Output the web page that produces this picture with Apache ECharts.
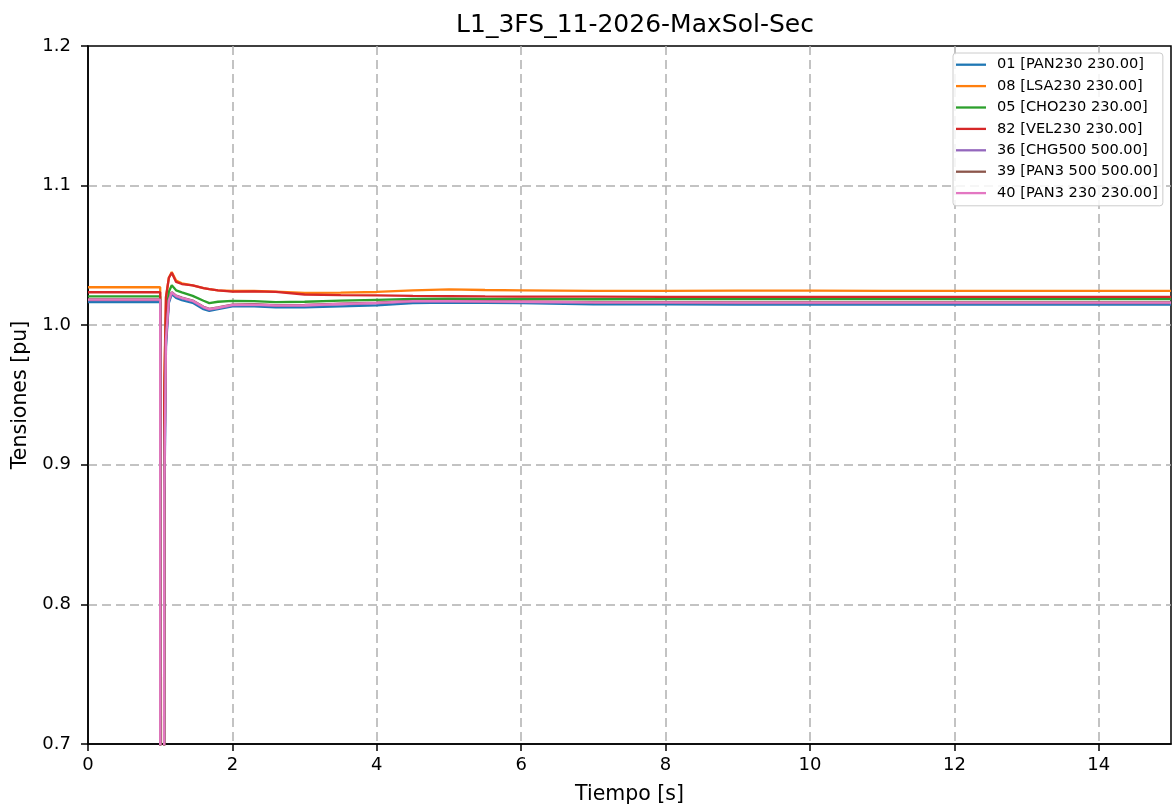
<!DOCTYPE html>
<html>
<head>
<meta charset="utf-8">
<script src="https://cdn.jsdelivr.net/npm/echarts@6/dist/echarts.min.js"></script>
<style>
html,body{margin:0;padding:0;background:#fff;}
#chart{width:1172px;height:812px;}
</style>
</head>
<body>
<div id="chart"></div>
<script>
// Time samples [s]
const T = [0, 1.0, 1.001, 1.05, 1.056, 1.08, 1.12, 1.16, 1.22, 1.3, 1.45, 1.6, 1.68, 1.8, 2.0, 2.3, 2.6, 3.0, 3.5, 4.0, 4.5, 5.0, 5.5, 6.0, 7.0, 8.0, 9.0, 10.0, 11.0, 12.0, 13.0, 14.0, 15.0];

// Voltages [pu]
const v01 = [1.0165, 1.0165, 0.2, 0.2, 0.86, 0.985, 1.016, 1.0222, 1.0195, 1.018, 1.016, 1.0115, 1.0102, 1.0115, 1.0135, 1.0135, 1.0127, 1.0128, 1.0135, 1.0142, 1.0158, 1.0162, 1.016, 1.0158, 1.0150, 1.0149, 1.0148, 1.0148, 1.0148, 1.0148, 1.0148, 1.0148, 1.0148];
const v08 = [1.0272, 1.0272, 0.2, 0.2, 0.96, 1.02, 1.034, 1.038, 1.032, 1.030, 1.0285, 1.0265, 1.0258, 1.025, 1.0245, 1.0245, 1.024, 1.0232, 1.0234, 1.0238, 1.0250, 1.0256, 1.0252, 1.0250, 1.0246, 1.0246, 1.0247, 1.0247, 1.0246, 1.0246, 1.0246, 1.0246, 1.0246];
const v05 = [1.0206, 1.0206, 0.2, 0.2, 0.93, 1.005, 1.024, 1.0286, 1.025, 1.0235, 1.021, 1.0175, 1.0158, 1.0168, 1.0174, 1.0172, 1.0166, 1.0168, 1.0176, 1.0182, 1.0188, 1.0190, 1.0189, 1.0188, 1.0186, 1.0187, 1.0187, 1.0187, 1.0187, 1.0187, 1.0187, 1.0187, 1.0187];
const v82 = [1.0236, 1.0236, 0.2, 0.2, 0.95, 1.02, 1.034, 1.0375, 1.031, 1.0295, 1.0285, 1.0265, 1.0258, 1.025, 1.024, 1.0243, 1.0238, 1.022, 1.0215, 1.0213, 1.021, 1.0208, 1.0206, 1.0205, 1.0204, 1.0203, 1.0203, 1.0203, 1.0203, 1.0203, 1.0203, 1.0203, 1.0203];
const v36 = [1.0180, 1.0180, 0.2, 0.2, 0.87, 0.988, 1.017, 1.0232, 1.0207, 1.0192, 1.0172, 1.0127, 1.0112, 1.0122, 1.0142, 1.0145, 1.0139, 1.0140, 1.0149, 1.0157, 1.0169, 1.0169, 1.0167, 1.0165, 1.0161, 1.0160, 1.0159, 1.0159, 1.0159, 1.0159, 1.0159, 1.0159, 1.0159];
const v39 = [1.0185, 1.0185, 0.2, 0.2, 0.89, 0.99, 1.018, 1.0237, 1.0212, 1.0197, 1.0177, 1.0132, 1.0117, 1.0127, 1.0147, 1.0150, 1.0144, 1.0145, 1.0154, 1.0162, 1.0174, 1.0174, 1.0172, 1.0170, 1.0166, 1.0165, 1.0164, 1.0164, 1.0164, 1.0164, 1.0164, 1.0164, 1.0164];
const v40 = [1.0183, 1.0183, 0.2, 0.2, 0.88, 0.99, 1.018, 1.0235, 1.021, 1.0195, 1.0175, 1.013, 1.0115, 1.0125, 1.0145, 1.0148, 1.0142, 1.0143, 1.0152, 1.016, 1.0172, 1.0172, 1.017, 1.0168, 1.0164, 1.0163, 1.0162, 1.0162, 1.0162, 1.0162, 1.0162, 1.0162, 1.0162];

const names = ['01 [PAN230 230.00]', '08 [LSA230 230.00]', '05 [CHO230 230.00]', '82 [VEL230 230.00]', '36 [CHG500 500.00]', '39 [PAN3 500 500.00]', '40 [PAN3 230 230.00]'];
const values = [v01, v08, v05, v82, v36, v39, v40];
const colors = ['#1f77b4', '#ff7f0e', '#2ca02c', '#d62728', '#9467bd', '#8c564b', '#e377c2'];

const xTicks = [0, 2, 4, 6, 8, 10, 12, 14];
const yTicks = [0.7, 0.8, 0.9, 1.0, 1.1, 1.2];

const FONT = 'DejaVu Sans';
const chart = echarts.init(document.getElementById('chart'), null, {renderer: 'canvas'});

const series = values.map((arr, i) => ({
  name: names[i],
  type: 'line',
  data: T.map((t, k) => [t, arr[k]]),
  showSymbol: false,
  symbol: 'none',
  clip: true,
  animation: false,
  lineStyle: {color: colors[i], width: 2.3},
  itemStyle: {color: colors[i]},
  z: 2 + i
}));

chart.setOption({
  animation: false,
  backgroundColor: '#fff',
  title: {
    text: 'L1_3FS_11-2026-MaxSol-Sec',
    left: 630, top: 8, textAlign: 'center',
    textStyle: {fontFamily: FONT, fontSize: 25, fontWeight: 'normal', color: '#000'}
  },
  legend: {
    orient: 'vertical',
    left: 953, top: 53,
    data: names,
    icon: 'rect',
    itemWidth: 30, itemHeight: 2.3,
    itemGap: 0,
    padding: [1, 5, 2, 3],
    borderColor: '#cccccc', borderWidth: 1, borderRadius: 3,
    backgroundColor: 'rgba(255,255,255,0.85)',
    textStyle: {fontFamily: FONT, fontSize: 14.6, color: '#000', lineHeight: 21.4, padding: [0, 0, 0, 6]}
  },
  grid: {left: 88, right: 1, top: 46, bottom: 68, show: true, borderColor: '#000', borderWidth: 1.5, containLabel: false},
  xAxis: {
    type: 'value', min: 0, max: 15, interval: 2,
    name: 'Tiempo [s]', nameLocation: 'middle', nameGap: 40,
    nameTextStyle: {fontFamily: FONT, fontSize: 20.5, color: '#000'},
    axisLine: {show: true, onZero: false, lineStyle: {color: '#000', width: 1.5}},
    axisTick: {show: true, inside: false, length: 7, lineStyle: {color: '#000', width: 1.5}},
    axisLabel: {fontFamily: FONT, fontSize: 18, color: '#000', margin: 12, showMaxLabel: false,
      formatter: v => xTicks.includes(v) ? String(v) : ''},
    splitLine: {show: true, showMinLine: false, showMaxLine: false, lineStyle: {color: '#b0b0b0', width: 1.5, type: [9, 5]}}
  },
  yAxis: {
    type: 'value', min: 0.7, max: 1.2, interval: 0.1,
    name: 'Tensiones [pu]', nameLocation: 'middle', nameGap: 54,
    nameTextStyle: {fontFamily: FONT, fontSize: 20.5, color: '#000'},
    axisLine: {show: true, onZero: false, lineStyle: {color: '#000', width: 1.5}},
    axisTick: {show: true, inside: false, length: 7, lineStyle: {color: '#000', width: 1.5}},
    axisLabel: {fontFamily: FONT, fontSize: 18, color: '#000', margin: 17,
      formatter: v => {
        const r = Math.round(v * 10) / 10;
        return yTicks.some(t => Math.abs(t - r) < 1e-9) ? r.toFixed(1) : '';
      }},
    splitLine: {show: true, showMinLine: false, showMaxLine: false, lineStyle: {color: '#b0b0b0', width: 1.5, type: [9, 5]}}
  },
  series: series
});
</script>
</body>
</html>
